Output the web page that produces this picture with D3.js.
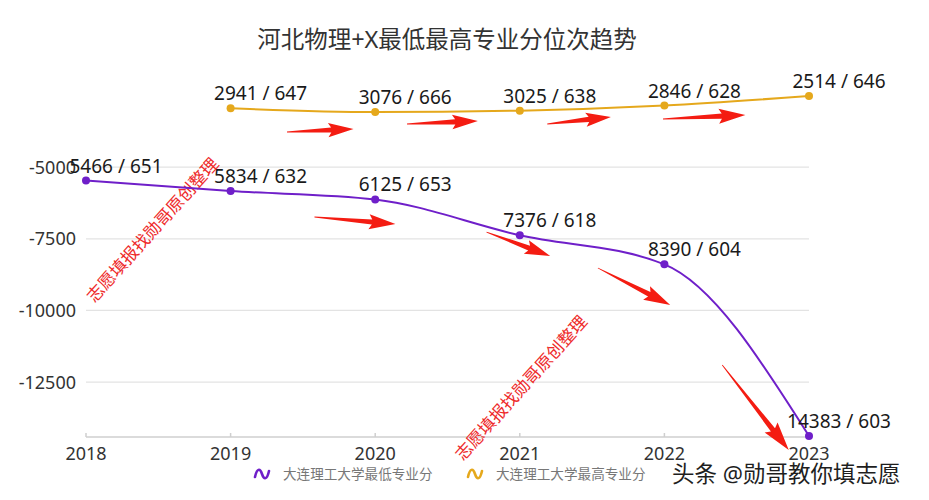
<!DOCTYPE html>
<html>
<head>
<meta charset="utf-8">
<script src="https://cdn.jsdelivr.net/npm/d3@7"></script>
<style>
  body { margin: 0; background: #fff; }
  text { font-family: "Noto Sans", "Noto Sans CJK SC", sans-serif; }
</style>
</head>
<body>
<svg id="chart" width="929" height="500"></svg>
<script>
// data (rank shown as negative so that better is higher)
var years = [2018, 2019, 2020, 2021, 2022, 2023];
var lowRank = [5466, 5834, 6125, 7376, 8390, 14383];
var lowScore = [651, 632, 653, 618, 604, 603];
var highYears = [2019, 2020, 2021, 2022, 2023];
var highRank = [2941, 3076, 3025, 2846, 2514];
var highScore = [647, 666, 638, 628, 646];
var yTicks = [-5000, -7500, -10000, -12500];
var seriesNames = ['大连理工大学最低专业分', '大连理工大学最高专业分'];
var seriesColors = ['#6f1fc9', '#e5a81c'];
var titleText = '河北物理+X最低最高专业分位次趋势';
var stampText = '志愿填报找勋哥原创整理';
var signText = '头条 @勋哥教你填志愿';

// red hand-drawn arrows, in data units: [year0, value0, year1, value1]
var arrows = [
  [2019.39, -3771, 2019.85, -3666],
  [2020.22, -3491, 2020.71, -3387],
  [2021.19, -3491, 2021.63, -3247],
  [2021.99, -3317, 2022.56, -3177],
  [2019.58, -6738, 2020.14, -6982],
  [2020.77, -7262, 2021.21, -8099],
  [2021.54, -8518, 2022.04, -9810],
  [2022.40, -11904, 2022.86, -14872]
];
// red stamps: [year, value]
var stamps = [[2018.46, -7192], [2021.01, -12707]];

var svg = d3.select('#chart');

var lowData = years.map(function(y, i) {
  return { year: y, value: -lowRank[i], label: lowRank[i] + ' / ' + lowScore[i] };
});
var highData = highYears.map(function(y, i) {
  return { year: y, value: -highRank[i], label: highRank[i] + ' / ' + highScore[i] };
});

var allValues = lowData.concat(highData).map(function(d) { return d.value; });

var x = d3.scaleLinear()
  .domain([years[0], years[years.length - 1]])
  .range([86, 809]);
var y = d3.scaleLinear()
  .domain(d3.extent(allValues))
  .range([436, 96]);

// title
svg.append('text')
  .attr('x', 447)
  .attr('y', 48)
  .attr('text-anchor', 'middle')
  .attr('font-size', 23.5)
  .attr('fill', '#333')
  .text(titleText);

// grid lines + y labels
svg.append('g').selectAll('line')
  .data(yTicks)
  .enter().append('line')
    .attr('x1', x.range()[0])
    .attr('x2', x.range()[1])
    .attr('y1', function(d) { return y(d); })
    .attr('y2', function(d) { return y(d); })
    .attr('stroke', '#e3e3e3')
    .attr('stroke-width', 1.2);

svg.append('g').selectAll('text')
  .data(yTicks)
  .enter().append('text')
    .attr('x', 76)
    .attr('y', function(d) { return y(d); })
    .attr('dy', '0.36em')
    .attr('text-anchor', 'end')
    .attr('font-size', 18)
    .attr('fill', '#333')
    .text(function(d) { return d; });

// x axis
var xAxis = svg.append('g');
xAxis.append('line')
  .attr('x1', x.range()[0])
  .attr('x2', x.range()[1])
  .attr('y1', y.range()[0] + 1)
  .attr('y2', y.range()[0] + 1)
  .attr('stroke', '#cfcfcf')
  .attr('stroke-width', 1.5);
xAxis.selectAll('line.tick')
  .data(years)
  .enter().append('line')
    .attr('class', 'tick')
    .attr('x1', function(d) { return x(d); })
    .attr('x2', function(d) { return x(d); })
    .attr('y1', y.range()[0] + 1)
    .attr('y2', y.range()[0] - 3)
    .attr('stroke', '#cfcfcf')
    .attr('stroke-width', 1.5);
xAxis.selectAll('text')
  .data(years)
  .enter().append('text')
    .attr('x', function(d) { return x(d); })
    .attr('y', 460)
    .attr('text-anchor', 'middle')
    .attr('font-size', 18)
    .attr('fill', '#333')
    .text(function(d) { return d; });

// stamps
svg.append('g').selectAll('text')
  .data(stamps)
  .enter().append('text')
    .attr('transform', function(d) {
      return 'translate(' + x(d[0]) + ',' + y(d[1]) + ') rotate(-48)';
    })
    .attr('text-anchor', 'middle')
    .attr('dy', '0.35em')
    .attr('font-size', 17)
    .attr('fill', '#ee2a2a')
    .attr('font-family', '"Noto Sans CJK SC", sans-serif')
    .text(stampText);

// series
var line = d3.line()
  .x(function(d) { return x(d.year); })
  .y(function(d) { return y(d.value); })
  .curve(d3.curveMonotoneX);

[lowData, highData].forEach(function(data, i) {
  var g = svg.append('g');
  g.append('path')
    .datum(data)
    .attr('d', line)
    .attr('fill', 'none')
    .attr('stroke', seriesColors[i])
    .attr('stroke-width', 2);
  g.selectAll('circle')
    .data(data)
    .enter().append('circle')
      .attr('cx', function(d) { return x(d.year); })
      .attr('cy', function(d) { return y(d.value); })
      .attr('r', 4)
      .attr('fill', seriesColors[i]);
});

// arrows
var arrowShape = function(len) {
  var h = 17 + len * 0.08, w = 5.5 + len * 0.025;
  return [[0, -0.4], [len - h, -2.6], [len - h - 3, -w], [len, 0],
          [len - h - 3, w], [len - h, 2.6], [0, 0.4]];
};
svg.append('g').selectAll('polygon')
  .data(arrows)
  .enter().append('polygon')
    .attr('points', function(d) {
      var dx = x(d[2]) - x(d[0]), dy = y(d[3]) - y(d[1]);
      return arrowShape(Math.sqrt(dx * dx + dy * dy)).join(' ');
    })
    .attr('transform', function(d) {
      var dx = x(d[2]) - x(d[0]), dy = y(d[3]) - y(d[1]);
      var a = Math.atan2(dy, dx) * 180 / Math.PI;
      return 'translate(' + x(d[0]) + ',' + y(d[1]) + ') rotate(' + a + ')';
    })
    .attr('fill', '#f41c12');

// data labels
[lowData, highData].forEach(function(data) {
  svg.append('g').selectAll('text')
    .data(data)
    .enter().append('text')
      .attr('x', function(d) { return x(d.year) + 30; })
      .attr('y', function(d) { return y(d.value) - 8; })
      .attr('text-anchor', 'middle')
      .attr('font-size', 19)
      .attr('fill', '#1a1a1a')
      .text(function(d) { return d.label; });
});

// legend
var legendX = [262, 475];
var legend = svg.append('g').selectAll('g')
  .data(seriesNames)
  .enter().append('g')
    .attr('transform', function(d, i) { return 'translate(' + legendX[i] + ',474)'; });
legend.append('path')
  .attr('d', 'M-7,3 C-5,-6 -2,-6 0,0 C2,6 5,6 7,-3')
  .attr('fill', 'none')
  .attr('stroke', function(d, i) { return seriesColors[i]; })
  .attr('stroke-width', 2.6)
  .attr('stroke-linecap', 'round');
legend.append('text')
  .attr('x', 21)
  .attr('dy', '0.35em')
  .attr('font-size', 13.6)
  .attr('fill', '#777')
  .attr('font-family', '"Noto Sans CJK SC", sans-serif')
  .text(function(d) { return d; });

// signature
svg.append('text')
  .attr('x', 672)
  .attr('y', 482)
  .attr('font-size', 22.5)
  .attr('fill', '#1e1e1e')
  .attr('stroke', '#fff')
  .attr('stroke-width', 2)
  .attr('paint-order', 'stroke')
  .attr('font-family', '"Noto Sans CJK SC", sans-serif')
  .text(signText);
</script>
</body>
</html>
